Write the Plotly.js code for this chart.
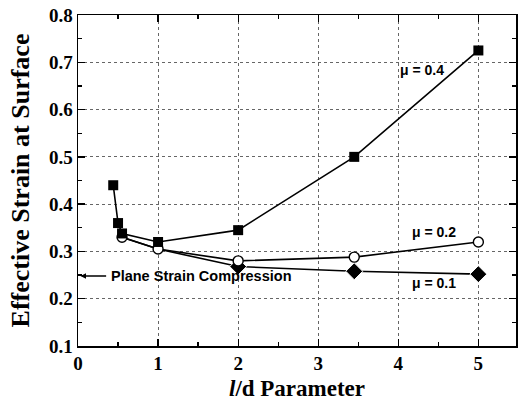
<!DOCTYPE html>
<html><head><meta charset="utf-8">
<script src="https://cdn.plot.ly/plotly-3.0.1.min.js"></script>
<style>html,body{margin:0;padding:0;background:#fff}</style>
</head><body>
<div id="chart" style="width:522px;height:402px"></div>
<script>
const x04 = [0.44, 0.5, 0.55, 1, 2, 3.45, 5];
const y04 = [0.44, 0.36, 0.338, 0.32, 0.345, 0.5, 0.725];
const x02 = [0.55, 1, 2, 3.45, 5];
const y02 = [0.33, 0.305, 0.28, 0.288, 0.32];
const x01 = [0.55, 1, 2, 3.45, 5];
const y01 = [0.33, 0.305, 0.268, 0.258, 0.252];
const seriesLabels = ['μ = 0.4', 'μ = 0.2', 'μ = 0.1'];
const labelPos = [[4.3, 0.683], [4.44, 0.341], [4.44, 0.233]];
const planeStrain = {text: 'Plane Strain Compression', y: 0.248};

const serif = 'Liberation Serif, Times New Roman, serif';
const sans = 'Liberation Sans, Arial, sans-serif';

// diamonds coinciding with the open circles are hidden beneath them in the original
const diamondSizes = x01.map((v, i) => (y01[i] === y02[x02.indexOf(v)] ? 0 : 13));

const traces = [
  {x: x01, y: y01, mode: 'lines+markers', line: {color: '#000', width: 1.6},
   marker: {symbol: 'diamond', size: diamondSizes, color: '#000', opacity: 1}},
  {x: x02, y: y02, mode: 'lines+markers', line: {color: '#000', width: 1.6},
   marker: {symbol: 'circle', size: 10, color: '#fff', opacity: 1, line: {color: '#000', width: 1.4}}},
  {x: x04, y: y04, mode: 'lines+markers', line: {color: '#000', width: 1.6},
   marker: {symbol: 'square', size: 10, color: '#000', opacity: 1}}
];

const annotations = seriesLabels.map((t, i) => ({
  x: labelPos[i][0], y: labelPos[i][1], text: t, showarrow: false,
  font: {family: sans, size: 14, color: '#000', weight: 'bold'}
}));
annotations.push({
  x: 0.03, y: planeStrain.y, ax: 0.37, ay: planeStrain.y, axref: 'x', ayref: 'y',
  text: '', showarrow: true, arrowhead: 2, arrowsize: 0.8, arrowwidth: 1.4, arrowcolor: '#000'
});
annotations.push({
  x: 0.39, y: planeStrain.y, xanchor: 'left', text: planeStrain.text, showarrow: false,
  font: {family: sans, size: 14.5, color: '#000', weight: 'bold'}
});

const axisCommon = {
  showline: true, linecolor: '#000', linewidth: 1.5, mirror: 'ticks',
  ticks: 'inside', ticklen: 7, tickwidth: 1.3, tickcolor: '#000',
  showgrid: true, gridcolor: '#666', gridwidth: 1, griddash: 'dot',
  zeroline: false,
  tickfont: {family: serif, size: 19, color: '#000', weight: 'bold'}
};

const layout = {
  width: 522, height: 402,
  margin: {l: 78, r: 6, t: 15, b: 56},
  showlegend: false,
  paper_bgcolor: '#fff', plot_bgcolor: '#fff',
  xaxis: Object.assign({}, axisCommon, {
    range: [0, 5.47], dtick: 1, tick0: 0,
    minor: {dtick: 0.5, ticks: 'inside', ticklen: 4, tickcolor: '#000', showgrid: false},
    title: {text: '<i>l</i>/d Parameter', standoff: 6,
            font: {family: serif, size: 23, color: '#000', weight: 'bold'}}
  }),
  yaxis: Object.assign({}, axisCommon, {
    range: [0.1, 0.8], dtick: 0.1, tick0: 0.1,
    minor: {dtick: 0.05, ticks: 'inside', ticklen: 4, tickcolor: '#000', showgrid: false},
    title: {text: 'Effective Strain at Surface', standoff: 12,
            font: {family: serif, size: 26, color: '#000', weight: 'bold'}}
  }),
  annotations: annotations
};

Plotly.newPlot('chart', traces, layout, {staticPlot: true, displayModeBar: false});
</script>
</body></html>
